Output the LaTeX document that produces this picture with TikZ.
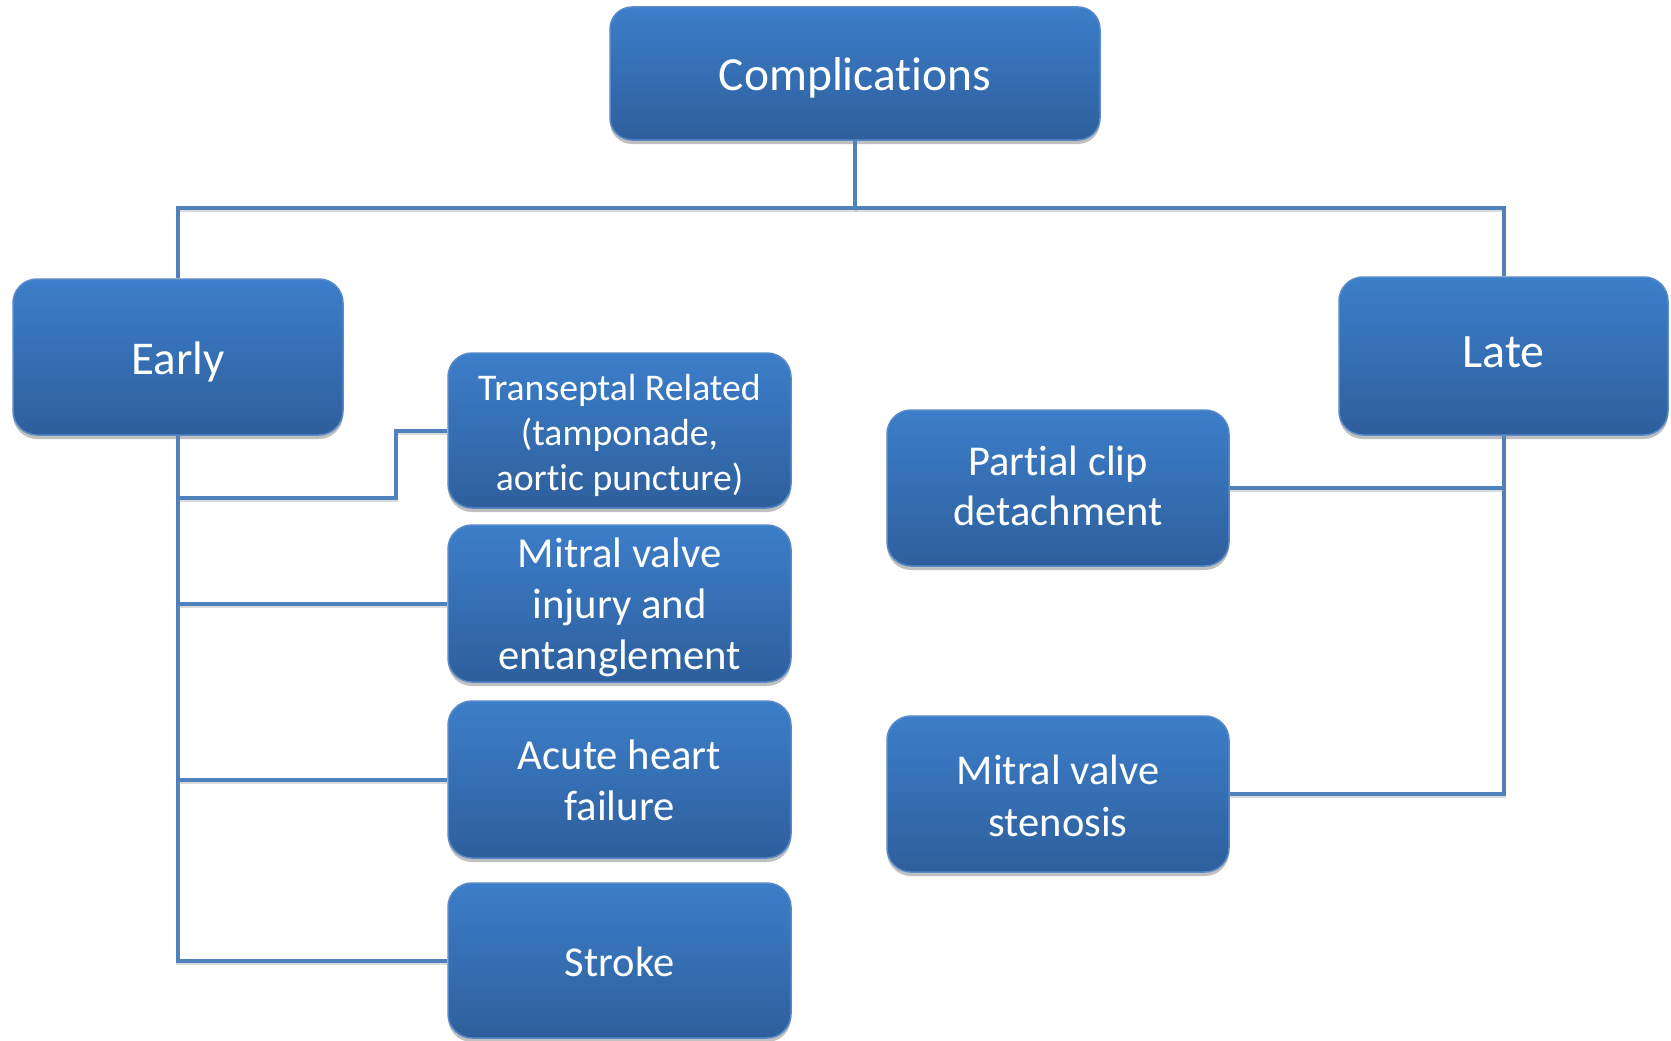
\documentclass[tikz,border=0pt]{standalone}
\usepackage{fontspec}
\setmainfont{Carlito}[Ligatures={NoCommon}]
\usetikzlibrary{shadows}
\definecolor{boxtop}{RGB}{60,126,202}
\definecolor{boxbot}{RGB}{46,95,156}
\definecolor{boxedge}{RGB}{88,138,200}
\definecolor{conncol}{RGB}{79,129,189}
\newcommand{\shiftdown}[2]{\raisebox{-#1pt}[\height][\depth]{#2}}
\tikzset{
  box/.style={rectangle, rounded corners=24pt, draw=boxedge, line width=1.5pt,
    top color=boxtop, bottom color=boxbot, text=white, align=center, inner sep=0pt,
    drop shadow={shadow xshift=0pt, shadow yshift=-4pt, opacity=0.35, fill=black!70}},
  conn/.style={draw=conncol, line width=4pt, line join=miter,
    preaction={draw=black!40, opacity=0.35, line width=4pt, transform canvas={yshift=-2pt}}},
}
\begin{document}
\begin{tikzpicture}[x=1pt,y=-1pt]
\useasboundingbox (0,0) rectangle (1671,1041);
\fill[white] (0,0) rectangle (1671,1041);
% nodes
\node[box, minimum width=490pt, minimum height=133pt, rounded corners=22pt,
  font=\fontsize{47.5}{56}\selectfont] (comp) at (855,73.5)
  {\shiftdown{4}{Complications}};
\node[box, minimum width=330pt, minimum height=156pt,
  font=\fontsize{47}{56}\selectfont] (early) at (178,357)
  {\shiftdown{5}{Early}};
\node[box, minimum width=329pt, minimum height=158pt,
  font=\fontsize{48}{57}\selectfont] (late) at (1503.5,356)
  {\shiftdown{-4}{Late}};
\node[box, minimum width=343pt, minimum height=155pt,
  font=\fontsize{37.7}{45}\selectfont] (trans) at (619.5,430.5)
  {\shiftdown{4.5}{Transeptal Related}\\\shiftdown{4.5}{(tamponade,}\\\shiftdown{4.5}{aortic puncture)}};
\node[box, minimum width=343pt, minimum height=157pt,
  font=\fontsize{42.7}{50.8}\selectfont] (inj) at (619.5,603.5)
  {\shiftdown{4}{Mitral valve}\\\shiftdown{4}{injury and}\\\shiftdown{4}{entanglement}};
\node[box, minimum width=343pt, minimum height=157pt,
  font=\fontsize{42.7}{51.2}\selectfont] (ahf) at (619.5,779.5)
  {\shiftdown{1}{Acute heart}\\\shiftdown{1}{failure}};
\node[box, minimum width=343pt, minimum height=155pt,
  font=\fontsize{42.5}{51}\selectfont] (stroke) at (619.5,960.5)
  {\shiftdown{1}{Stroke}};
\node[box, minimum width=342pt, minimum height=156pt,
  font=\fontsize{42.5}{50}\selectfont] (pcd) at (1058,488)
  {\shiftdown{-2}{Partial clip}\\\shiftdown{-2}{detachment}};
\node[box, minimum width=342pt, minimum height=156pt,
  font=\fontsize{42.5}{52}\selectfont] (mvs) at (1058,794)
  {\shiftdown{2}{Mitral valve}\\\shiftdown{2}{stenosis}};
% connectors
\coordinate (bus) at (857,208);
\coordinate (tjog) at (396,498);
\draw[conn] (comp.south) -- (comp.south |- bus) -| (early.north);
\draw[conn] (comp.south |- bus) -| (late.north);
\draw[conn] (early.south) -- (early.south |- stroke.west) -- (stroke.west);
\draw[conn] (early.south |- tjog) -- (tjog) |- (trans.west);
\draw[conn] (early.south |- inj.west) -- (inj.west);
\draw[conn] (early.south |- ahf.west) -- (ahf.west);
\draw[conn] (late.south) -- (late.south |- mvs.east) -- (mvs.east);
\draw[conn] (late.south |- pcd.east) -- (pcd.east);
\end{tikzpicture}
\end{document}
